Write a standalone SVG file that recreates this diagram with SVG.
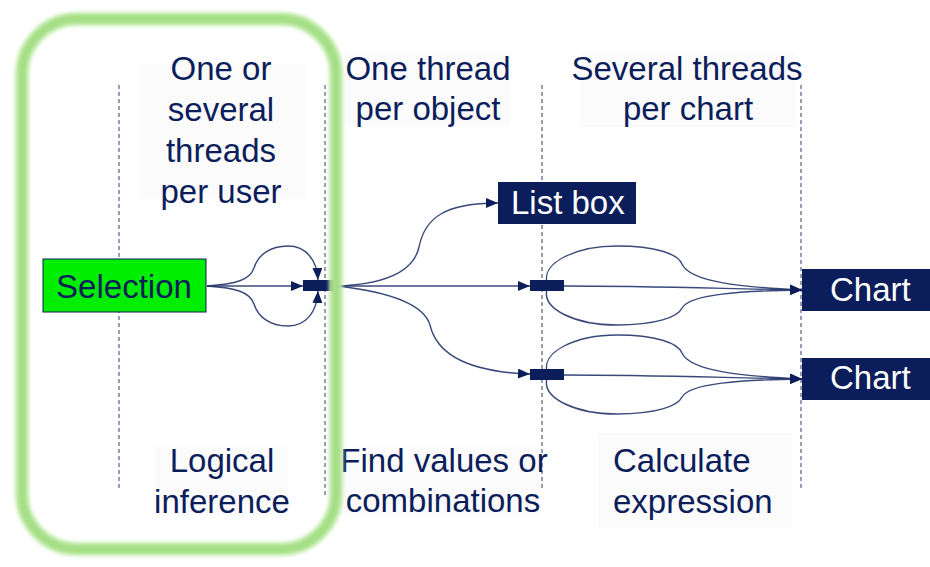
<svg xmlns="http://www.w3.org/2000/svg" width="930" height="567" viewBox="0 0 930 567">
  <defs>
    <style>
      .lbl { font-family: "Liberation Sans", Arial, sans-serif; font-size: 33px; fill: #0b1e5b; }
      .mid { text-anchor: middle; }
      .wht { fill: #ffffff; }
      .guide { stroke: #2b3a70; stroke-width: 1; stroke-dasharray: 4 3; fill: none; }
      .flow { stroke: #24356c; stroke-width: 1.4; fill: none; stroke-opacity: 0.9; }
      .bar { fill: #0b1e5b; }
      .tag { fill: #0b1e5b; }
      .haze { fill: #fbfbfc; }
    </style>
    <marker id="arrow" viewBox="0 0 12 10" refX="12" refY="5" markerWidth="12" markerHeight="10" markerUnits="userSpaceOnUse" orient="auto">
      <path d="M0,0 L12,5 L0,10 z" fill="#0b1e5b"/>
    </marker>
    <filter id="glow" x="-10%" y="-10%" width="120%" height="120%">
      <feGaussianBlur stdDeviation="1.8"/>
    </filter>
  </defs>

  <rect width="930" height="567" fill="#ffffff"/>

  <!-- faint panels behind the column captions -->
  <g id="caption-panels">
    <rect class="haze" x="140" y="64" width="165" height="134"/>
    <rect class="haze" x="345" y="53" width="165" height="72"/>
    <rect class="haze" x="581" y="53" width="214" height="74"/>
    <rect class="haze" x="155" y="447" width="133" height="68"/>
    <rect class="haze" x="338" y="447" width="202" height="68"/>
    <rect class="haze" x="598" y="433" width="194" height="95"/>
  </g>

  <!-- column separators -->
  <g id="guides">
    <line class="guide" x1="119" y1="85" x2="119" y2="490"/>
    <line class="guide" x1="325" y1="85" x2="325" y2="497"/>
    <line class="guide" x1="542" y1="85" x2="542" y2="490"/>
    <line class="guide" x1="801" y1="85" x2="801" y2="490"/>
  </g>

  <!-- column captions -->
  <g id="captions">
    <text class="lbl mid" x="221" y="80">One or</text>
    <text class="lbl mid" x="221" y="121">several</text>
    <text class="lbl mid" x="221" y="162">threads</text>
    <text class="lbl mid" x="221" y="203">per user</text>
    <text class="lbl mid" x="428" y="80">One thread</text>
    <text class="lbl mid" x="428" y="120">per object</text>
    <text class="lbl mid" x="687" y="80">Several threads</text>
    <text class="lbl mid" x="688" y="120">per chart</text>
    <text class="lbl mid" x="222" y="472">Logical</text>
    <text class="lbl mid" x="222" y="513">inference</text>
    <text class="lbl mid" x="444" y="472">Find values or</text>
    <text class="lbl mid" x="443" y="512">combinations</text>
    <text class="lbl" x="613" y="472">Calculate</text>
    <text class="lbl" x="613" y="513">expression</text>
  </g>

  <!-- connectors -->
  <g id="connectors">
    <path class="flow" d="M207,286 L303,286" marker-end="url(#arrow)"/>
    <path class="flow" d="M207,286 C236,284 250,280 254,268 C258,255 270,246 288,246 C306,246 317,260 318,280" marker-end="url(#arrow)"/>
    <path class="flow" d="M207,286 C236,288 250,292 254,304 C258,317 270,326 288,326 C306,326 317,312 318,291" marker-end="url(#arrow)"/>
    <line x1="337" y1="281" x2="337" y2="292" stroke="#24356c" stroke-width="1.4"/>
    <path class="flow" d="M337,286 L530,286" marker-end="url(#arrow)"/>
    <path class="flow" d="M337,286 C390,284 414,270 419,247 C425,217 446,203 498,203" marker-end="url(#arrow)"/>
    <path class="flow" d="M337,286 C390,292 424,305 430,325 C437,355 470,372 530,374" marker-end="url(#arrow)"/>

    <path class="flow" d="M564,286 C640,286 700,288 802,290" marker-end="url(#arrow)"/>
    <path class="flow" d="M548,286 C538,262 578,246 617,246 C656,246 678,254 682,264 C690,282 740,287 802,290" marker-end="url(#arrow)"/>
    <path class="flow" d="M548,286 C538,310 578,325 617,325 C656,325 678,317 682,308 C690,294 740,291 802,290" marker-end="url(#arrow)"/>

    <path class="flow" d="M564,375 C640,375 700,377 802,379" marker-end="url(#arrow)"/>
    <path class="flow" d="M548,375 C538,351 578,335 617,335 C656,335 678,343 682,353 C690,371 740,376 802,379" marker-end="url(#arrow)"/>
    <path class="flow" d="M548,375 C538,399 578,414 617,414 C656,414 678,406 682,397 C690,383 740,380 802,379" marker-end="url(#arrow)"/>
  </g>

  <!-- nodes -->
  <g id="selection">
    <rect x="43" y="259" width="163" height="53" fill="#00ee00" stroke="#0b1e5b" stroke-width="1"/>
    <text class="lbl mid" x="124" y="298">Selection</text>
  </g>
  <g id="user-thread">
    <rect class="bar" x="303" y="280" width="31" height="11"/>
  </g>
  <g id="object-thread-1">
    <rect class="bar" x="530" y="280" width="34" height="11"/>
  </g>
  <g id="object-thread-2">
    <rect class="bar" x="530" y="369" width="34" height="11"/>
  </g>
  <g id="list-box">
    <rect class="tag" x="498" y="182" width="138" height="42"/>
    <text class="lbl wht" x="511" y="214">List box</text>
  </g>
  <g id="chart-1">
    <rect class="tag" x="802" y="269" width="128" height="42"/>
    <text class="lbl wht" x="830" y="301">Chart</text>
  </g>
  <g id="chart-2">
    <rect class="tag" x="802" y="358" width="128" height="42"/>
    <text class="lbl wht" x="830" y="389">Chart</text>
  </g>

  <!-- highlight frame around the first stage -->
  <g id="highlight">
    <rect x="22" y="19" width="314" height="530" rx="55" ry="55" fill="none" stroke="#c6edb0" stroke-width="15" filter="url(#glow)" opacity="0.8"/>
    <rect x="22" y="19" width="314" height="530" rx="55" ry="55" fill="none" stroke="#a2de82" stroke-width="9" filter="url(#glow)" opacity="0.9"/>
  </g>
</svg>
